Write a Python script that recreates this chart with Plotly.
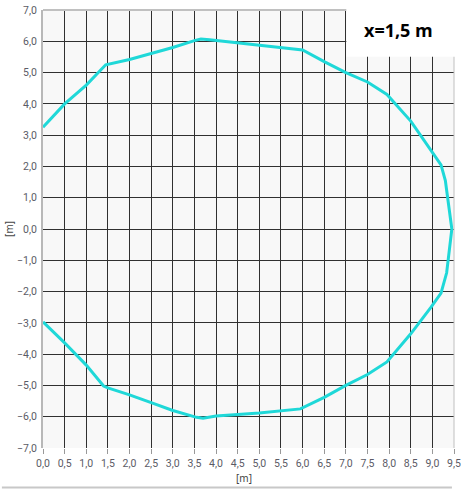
import plotly.graph_objects as go

# Contour de la section à x = 1,5 m
top_x = [0.0, 0.5, 1.0, 1.45, 2.0, 2.5, 3.0, 3.5, 3.65, 3.85, 4.5, 5.5, 6.0,
         6.5, 7.0, 7.5, 7.95, 8.5, 8.95, 9.2, 9.3, 9.45]
top_y = [3.25, 4.0, 4.6, 5.25, 5.42, 5.6, 5.8, 6.02, 6.07, 6.05, 5.95, 5.8, 5.72,
         5.35, 5.0, 4.7, 4.3, 3.45, 2.55, 2.05, 1.55, 0.0]

bot_x = [9.33, 9.2, 8.97, 8.5, 7.95, 7.5, 7.0, 6.5, 5.95, 5.0, 4.0, 3.7, 3.55,
         3.0, 2.5, 2.0, 1.5, 1.4, 1.0, 0.5, 0.0]
bot_y = [-1.4, -2.05, -2.5, -3.35, -4.25, -4.65, -5.0, -5.38, -5.75, -5.88, -5.98, -6.05, -6.02,
         -5.8, -5.55, -5.3, -5.08, -5.02, -4.35, -3.64, -2.97]

label = "x=1,5 m"

xs = top_x + bot_x
ys = top_y + bot_y

fig = go.Figure()
fig.add_trace(go.Scatter(x=xs, y=ys, mode="lines",
                         line=dict(color="#1fd8d8", width=3),
                         showlegend=False, hoverinfo="skip"))

tick_font = dict(family="Roboto", size=10.5, color="#5b5b66")

fig.update_layout(
    width=461, height=493,
    margin=dict(l=43, r=7, t=10, b=45),
    paper_bgcolor="white",
    plot_bgcolor="#f8f8f8",
    separators=",.",
    font=dict(family="Noto Sans", size=11, color="#444"),
    xaxis=dict(range=[0, 9.5], dtick=0.5, tick0=0, tickformat=".1f",
               showgrid=True, gridcolor="#303030", gridwidth=1,
               zeroline=False, showline=False, automargin=False,
               ticks="outside", ticklen=5, tickcolor="#999",
               ticklabeloverflow="allow", tickfont=tick_font),
    yaxis=dict(range=[-7, 7], dtick=1, tick0=0, tickformat=".1f",
               showgrid=True, gridcolor="#303030", gridwidth=1,
               zeroline=False, showline=True, linecolor="#b8b8b8", linewidth=2,
               automargin=False, ticks="", ticklabelstandoff=2,
               ticklabeloverflow="allow", tickfont=tick_font),
    shapes=[
        # cadre haut et droite clair
        dict(type="line", xref="paper", yref="paper", x0=0, x1=1, y0=1, y1=1,
             line=dict(color="#c0c0c0", width=2)),
        dict(type="line", xref="paper", yref="paper", x0=1, x1=1, y0=0, y1=1,
             line=dict(color="#c0c0c0", width=1)),
        # encart blanc du titre
        dict(type="rect", xref="paper", yref="paper", x0=0.738, x1=1.02, y0=0.893, y1=1.03,
             fillcolor="white", line=dict(width=0), layer="above"),
        # séparateur bas
        dict(type="line", xref="paper", yref="paper", x0=-0.1, x1=0.995, y0=-0.09, y1=-0.09,
             line=dict(color="#c8c8c8", width=2)),
    ],
    annotations=[
        dict(text=f"<b>{label}</b>", xref="paper", yref="paper", x=0.865, y=0.955,
             xanchor="center", yanchor="middle",
             showarrow=False, font=dict(family="Open Sans", size=18, color="black")),
        dict(text="[m]", xref="paper", yref="paper", x=0.49, y=-0.068,
             xanchor="center", yanchor="middle",
             showarrow=False, font=dict(size=10, color="#444")),
        dict(text="[m]", xref="paper", yref="paper", x=-0.083, y=0.5, textangle=-90,
             xanchor="center", yanchor="middle",
             showarrow=False, font=dict(size=10, color="#444")),
    ],
)

# la page a une marge de 8 px par défaut : on la retire
fig.write_html("out.html", config={"displayModeBar": False},
               post_script="document.body.style.margin='0';")
